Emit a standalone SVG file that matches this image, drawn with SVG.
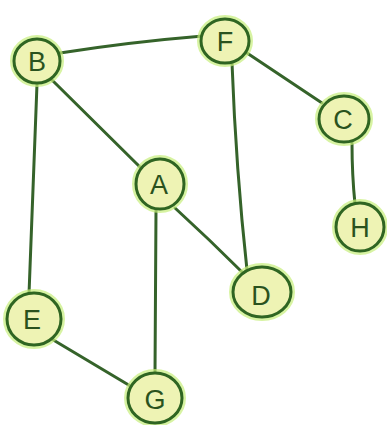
<svg xmlns="http://www.w3.org/2000/svg" width="387" height="425" viewBox="0 0 387 425">
<style>
.edge{fill:none;stroke:#35632a;stroke-width:3;stroke-linecap:round}
.halo{fill:none;stroke:#c6ee7a;stroke-width:8;opacity:0.7}
.node{fill:#eef3b4;stroke:#2f6522;stroke-width:3}
.lbl{font-family:"Liberation Sans",sans-serif;font-size:27px;fill:#2a521e;text-anchor:middle;dominant-baseline:central}
</style>
<rect width="387" height="425" fill="#ffffff"/>
<g id="connectors">
<path class="edge" d="M60,53 Q130,42 203,36"/>
<path class="edge" d="M52,80 L141,168"/>
<path class="edge" d="M37,84 L29,294"/>
<path class="edge" d="M232,63 Q236,170 247,270"/>
<path class="edge" d="M247,53 L322,103"/>
<path class="edge" d="M352,143 Q352,175 355,204"/>
<path class="edge" d="M175,208 Q210,240 243,273"/>
<path class="edge" d="M156,210 L155,373"/>
<path class="edge" d="M50,338 L132,387"/>
</g>
<g id="B"><ellipse class="halo" cx="37" cy="61" rx="23" ry="22"/><ellipse class="node" cx="37" cy="61" rx="23" ry="22"/><text class="lbl" x="37" y="62">B</text></g>
<g id="F"><ellipse class="halo" cx="225" cy="41" rx="24" ry="22"/><ellipse class="node" cx="225" cy="41" rx="24" ry="22"/><text class="lbl" x="225" y="42">F</text></g>
<g id="C"><ellipse class="halo" cx="344" cy="119" rx="25" ry="23"/><ellipse class="node" cx="344" cy="119" rx="25" ry="23"/><text class="lbl" x="343" y="120">C</text></g>
<g id="H"><ellipse class="halo" cx="360" cy="227" rx="24" ry="24"/><ellipse class="node" cx="360" cy="227" rx="24" ry="24"/><text class="lbl" x="360" y="228">H</text></g>
<g id="A"><ellipse class="halo" cx="160" cy="184" rx="24" ry="25"/><ellipse class="node" cx="160" cy="184" rx="24" ry="25"/><text class="lbl" x="159" y="185">A</text></g>
<g id="D"><ellipse class="halo" cx="262" cy="292" rx="29" ry="25"/><ellipse class="node" cx="262" cy="292" rx="29" ry="25"/><text class="lbl" x="261" y="296">D</text></g>
<g id="E"><ellipse class="halo" cx="34" cy="319" rx="27" ry="26"/><ellipse class="node" cx="34" cy="319" rx="27" ry="26"/><text class="lbl" x="32" y="320">E</text></g>
<g id="G"><ellipse class="halo" cx="155" cy="398" rx="27" ry="25"/><ellipse class="node" cx="155" cy="398" rx="27" ry="25"/><text class="lbl" x="155" y="400">G</text></g>
</svg>
